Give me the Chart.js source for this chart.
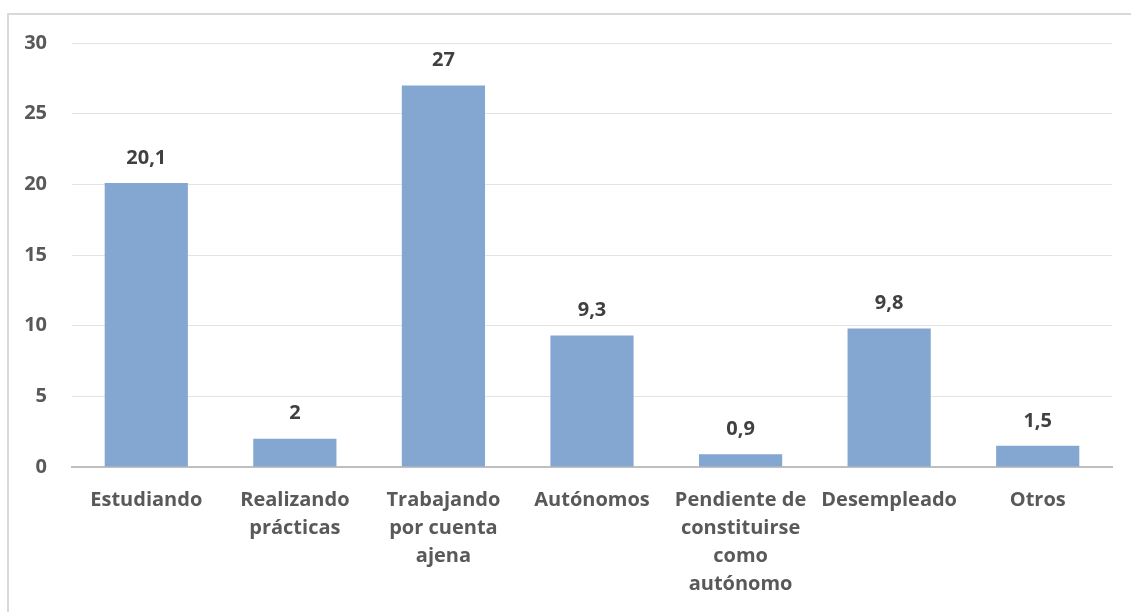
<!DOCTYPE html>
<html>
<head>
<meta charset="utf-8">
<script src="https://cdn.jsdelivr.net/npm/chart.js@4/dist/chart.umd.min.js"></script>
<style>
    body { margin: 0; background: #fff; }
    #wrap { position: relative; width: 1131px; height: 612px; overflow: hidden; }
    #frame { position: absolute; left: 7px; top: 13px; width: 1200px; height: 700px;
             border: 2px solid #d9d9d9; box-sizing: border-box; }
    canvas { position: absolute; left: 0; top: 0; }
</style>
</head>
<body>
<div id="wrap">
    <div id="frame"></div>
    <canvas id="situacionChart" width="1131" height="612"></canvas>
</div>
<script>
// datos
var categorias = [
    'Estudiando',
    ['Realizando', 'prácticas'],
    ['Trabajando', 'por cuenta', 'ajena'],
    'Autónomos',
    ['Pendiente de', 'constituirse', 'como', 'autónomo'],
    'Desempleado',
    'Otros'
];
var porcentajes = [20.1, 2, 27, 9.3, 0.9, 9.8, 1.5];
var ticksY = [0, 5, 10, 15, 20, 25, 30];

var fuente = "'Open Sans', sans-serif";

// etiquetas encima de cada barra (coma decimal)
var etiquetasBarras = {
    id: 'etiquetasBarras',
    afterDatasetsDraw: function(chart) {
        var ctx = chart.ctx;
        var meta = chart.getDatasetMeta(0);
        ctx.save();
        ctx.font = 'bold 20px ' + fuente;
        ctx.fillStyle = '#404040';
        ctx.textAlign = 'center';
        ctx.textBaseline = 'middle';
        meta.data.forEach(function(bar, i) {
            var txt = String(porcentajes[i]).replace('.', ',');
            ctx.fillText(txt, bar.x, bar.y - 25);
        });
        ctx.restore();
    }
};

window.onload = function() {
    var ctx = document.getElementById('situacionChart').getContext('2d');
    var situacionChart = new Chart(ctx, {
        type: 'bar',
        data: {
            labels: categorias,
            datasets: [{
                data: porcentajes,
                backgroundColor: '#83a7d1',
                barPercentage: 0.56,
                categoryPercentage: 1
            }]
        },
        options: {
            responsive: false,
            animation: false,
            layout: {
                padding: { top: 43, right: 19, left: 0, bottom: 0 }
            },
            plugins: {
                legend: { display: false },
                title: { display: false },
                tooltip: { enabled: false }
            },
            scales: {
                x: {
                    grid: { display: false, drawTicks: false },
                    border: { display: true, color: '#bfbfbf', width: 2 },
                    ticks: {
                        color: '#595959',
                        padding: 19,
                        maxRotation: 0,
                        autoSkip: false,
                        font: { family: fuente, size: 20, weight: 'bold', lineHeight: 1.4 }
                    },
                    afterFit: function(scale) { scale.height = 145; }
                },
                y: {
                    min: 0,
                    max: 30,
                    afterBuildTicks: function(scale) {
                        scale.ticks = ticksY.map(function(v) { return { value: v }; });
                    },
                    grid: { color: '#e3e3e3', lineWidth: 1, drawTicks: false },
                    border: { display: false },
                    ticks: {
                        color: '#595959',
                        padding: 25,
                        font: { family: fuente, size: 20, weight: 'bold' }
                    },
                    afterFit: function(scale) { scale.width = 72; }
                }
            }
        },
        plugins: [etiquetasBarras]
    });
};
</script>
</body>
</html>
